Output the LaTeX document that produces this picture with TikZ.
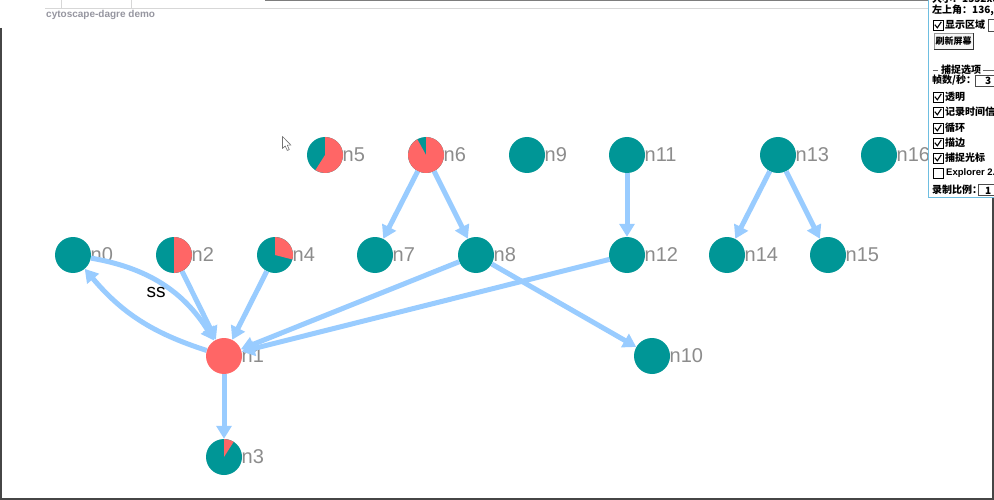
\documentclass[tikz,border=0pt]{standalone}
\usepackage{fontspec}
\setmainfont{Liberation Sans}
\newfontfamily\cjk{Noto Sans CJK SC}
\usetikzlibrary{arrows.meta}
\definecolor{teal1}{RGB}{0,150,150}
\definecolor{red1}{RGB}{255,102,102}
\definecolor{edge1}{RGB}{153,204,255}
\definecolor{lbl}{RGB}{140,140,140}
\definecolor{frame1}{RGB}{70,70,70}
\definecolor{thin1}{RGB}{215,215,215}
\definecolor{title1}{RGB}{150,150,160}
\definecolor{panelblue}{RGB}{110,190,225}
\newcommand\mypie[2]{\fill[red1] (#1.center) -- ++(0,-18) arc[start angle=-90,end angle={-90+3.6*#2},radius=18] -- cycle;}
\newcommand\mychk[2]{%
  \draw[black,line width=0.8pt,fill=white] (933,#1-5) rectangle (943,#1+5);
  \ifnum#2=1 \draw[black,line width=1.1pt] (934.8,#1-0.3) -- (937.3,#1+2.8) -- (941.3,#1-3.2);\fi}
\begin{document}
\begin{tikzpicture}[x=1pt,y=-1pt,
  gnode/.style={circle,fill=teal1,minimum size=36pt,inner sep=0pt},
  rnode/.style={gnode,fill=red1},
  nlabel/.style={anchor=west,text=lbl,font=\fontsize{20}{20}\selectfont,inner sep=0pt},
  edge/.style={draw=edge1,line width=5pt,-{Triangle[length=13pt,width=15pt]},shorten >=0pt},
  ptext/.style={anchor=west,inner sep=0pt,font=\cjk\bfseries\fontsize{10}{10}\selectfont,text=black},
  uibox/.style={draw=black!70,line width=0.8pt,fill=white}]
\useasboundingbox (0,0) rectangle (994,500);
\clip (0,0) rectangle (994,500);
\fill[white] (0,0) rectangle (994,500);
% page top
\draw[thin1,line width=1pt] (45,8.5) -- (928,8.5);
\draw[thin1,line width=1pt] (61,0) -- (61,8.5) (131,0) -- (131,8.5);
\node[anchor=west,inner sep=0pt,text=title1,font=\bfseries\fontsize{10}{10}\selectfont] (title) at (46,15) {cytoscape-dagre demo};
% frame
\draw[frame1,line width=2pt] (1,28) -- (1,499) -- (993,499) -- (993,198);
\draw[frame1!70,line width=1pt] (265,0.5) -- (928,0.5);
% nodes
\node[gnode] (n0) at (73,255) {};
\node[gnode] (n2) at (174,255) {};
\node[gnode] (n4) at (275,255) {};
\node[gnode] (n5) at (325,155) {};
\node[gnode] (n6) at (426,155) {};
\node[gnode] (n9) at (527,155) {};
\node[gnode] (n11) at (627,155) {};
\node[gnode] (n13) at (778,155) {};
\node[gnode] (n16) at (879,155) {};
\node[gnode] (n7) at (375,255) {};
\node[gnode] (n8) at (476,255) {};
\node[gnode] (n12) at (627,255) {};
\node[gnode] (n14) at (727,255) {};
\node[gnode] (n15) at (828,255) {};
\node[rnode] (n1) at (224,356) {};
\node[gnode] (n10) at (652,356) {};
\node[gnode] (n3) at (224,457) {};
\mypie{n2}{50}
\mypie{n4}{29}
\mypie{n5}{59}
\mypie{n6}{92}
\mypie{n3}{9}
% labels
\foreach \n/\x/\y in {0/73/255,2/174/255,4/275/255,5/325/155,6/426/155,9/527/155,11/627/155,13/778/155,16/879/155,7/375/255,8/476/255,12/627/255,14/727/255,15/828/255,1/224/356,10/652/356,3/224/457}
  \node[nlabel] (l\n) at (\x+17.5,\y) {n\n};
% edges
\draw[edge] (n2) -- (n1);
\draw[edge] (n4) -- (n1);
\draw[edge] (n8) -- (n1);
\draw[edge] (n12) -- (n1);
\draw[edge] (n1) -- (n3);
\draw[edge] (n6) -- (n7);
\draw[edge] (n6) -- (n8);
\draw[edge] (n8) -- (n10);
\draw[edge] (n11) -- (n12);
\draw[edge] (n13) -- (n14);
\draw[edge] (n13) -- (n15);
\draw[edge] (n0) to[bend left=24] (n1);
\draw[edge] (n1) to[bend left=16] (n0);
\node[inner sep=0pt,font=\fontsize{19}{19}\selectfont] (ss) at (156,292) {ss};
% cursor
\draw[black!55,fill=white,line width=0.6pt,line join=round] (282.5,136.5) -- (282.5,148.5) -- (285.2,146) -- (287.3,150.5) -- (289.3,149.6) -- (287.3,145.2) -- (291,145.2) -- cycle;
% panel
\fill[white] (928,-2) rectangle (996,198);
\draw[panelblue,line width=1.5pt] (928.5,-2) -- (928.5,197.5) -- (996,197.5);
\node[ptext] (p0) at (932,-1) {大小：1552x8};
\node[ptext] (p1) at (932,10.5) {左上角：136,15};
\mychk{25}{1}
\node[ptext] (p2) at (945,25) {显示区域};
\draw[uibox] (988,19.5) rectangle (998,31);
\draw[black!40,fill=black!3,line width=0.8pt] (934,33.5) rectangle (973,49.5);
\draw[black!80,line width=0.9pt] (934,49.5) -- (973,49.5) -- (973,33.5);
\node[ptext,anchor=center,font=\cjk\bfseries\fontsize{9}{9}\selectfont] (p3) at (953.5,41.5) {刷新屏幕};
\draw[black!60,line width=0.8pt] (932.5,70) -- (938,70);
\node[ptext] (p4) at (941,70) {捕捉选项};
\draw[black!60,line width=0.8pt] (983,70) -- (996,70);
\node[ptext] (p5) at (932,80.5) {帧数/秒：};
\draw[uibox] (975,75.5) rectangle (998,86);
\node[ptext] (p6) at (985,81) {3};
\mychk{97}{1}
\node[ptext] (p7) at (945,97) {透明};
\mychk{112}{1}
\node[ptext] (p8) at (945,112) {记录时间信};
\mychk{128}{1}
\node[ptext] (p9) at (945,128) {循环};
\mychk{143}{1}
\node[ptext] (p10) at (945,143) {描边};
\mychk{158}{1}
\node[ptext] (p11) at (945,158) {捕捉光标};
\mychk{173}{0}
\node[ptext,font=\bfseries\fontsize{9.5}{9.5}\selectfont] (p12) at (946,173.5) {Explorer 2.0};
\node[ptext] (p13) at (932,190) {录制比例：};
\draw[uibox] (978,184.5) rectangle (998,195.5);
\node[ptext] (p14) at (985,190.5) {1};
\end{tikzpicture}
\end{document}
